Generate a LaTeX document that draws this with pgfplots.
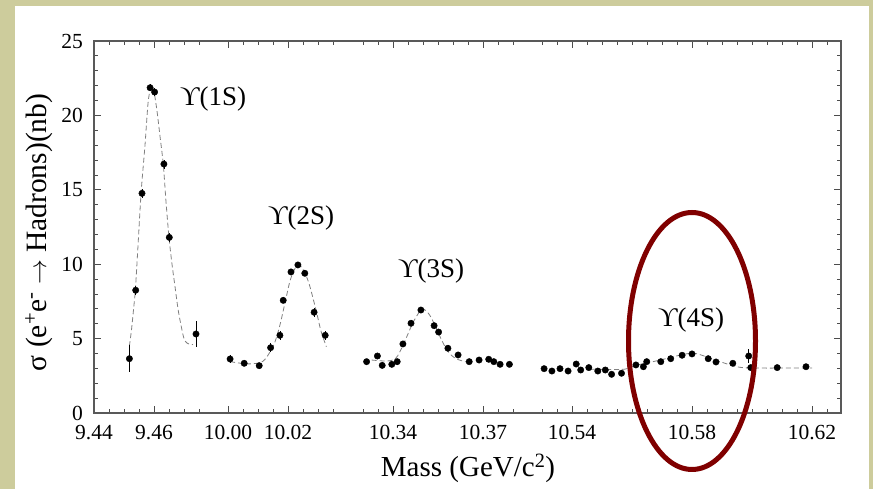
\documentclass[border=0pt]{standalone}
\usepackage{fontspec}
\setmainfont{Liberation Serif}
\usepackage{pgfplots}
\pgfplotsset{compat=1.18}
\usepackage{pgfplotstable}
\definecolor{frame}{RGB}{205,204,156}
\definecolor{ellred}{RGB}{128,0,0}

% Upsilon(1S) data
\pgfplotstableread{
m v e
9.4518 3.65 0.90
9.4539 8.25 0.30
9.4560 14.76 0.30
9.4587 21.86 0.25
9.4602 21.57 0.25
9.4633 16.73 0.30
9.4651 11.80 0.30
9.4740 5.31 0.85
}\ptsA
\pgfplotstableread{
m v
9.4518 4.5
9.4525 5.6
9.4532 7.0
9.4538 8.3
9.4546 11.0
9.4557 14.8
9.4570 18.0
9.4580 20.8
9.4588 21.8
9.4593 22.0
9.4600 21.6
9.4610 20.3
9.4620 18.6
9.4631 16.7
9.4640 14.2
9.4650 11.8
9.4660 10.0
9.4670 8.5
9.4680 7.0
9.4690 5.9
9.4700 5.0
9.4710 4.7
9.4720 4.6
9.4730 4.6
}\fitA
% Upsilon(2S)
\pgfplotstableread{
m v e
10.0007 3.63 0.30
10.0054 3.34 0.20
10.0104 3.18 0.20
10.0142 4.39 0.30
10.0173 5.22 0.30
10.0184 7.57 0.20
10.0210 9.48 0.20
10.0233 9.95 0.20
10.0256 9.39 0.20
10.0287 6.77 0.30
10.0324 5.22 0.30
}\ptsB
\pgfplotstableread{
m v
10.0007 3.45
10.0040 3.35
10.0073 3.30
10.0107 3.38
10.0123 3.60
10.0140 4.10
10.0157 4.80
10.0173 5.90
10.0190 7.40
10.0207 8.90
10.0223 9.70
10.0233 9.92
10.0243 9.85
10.0257 9.40
10.0273 8.50
10.0296 6.70
10.0310 5.50
10.0328 4.45
}\fitB
% Upsilon(3S)
\pgfplotstableread{
m v e
10.3312 3.45 0.20
10.3348 3.83 0.20
10.3364 3.20 0.20
10.3396 3.27 0.20
10.3414 3.45 0.20
10.3433 4.64 0.20
10.3460 6.03 0.20
10.3493 6.92 0.20
10.3537 5.87 0.20
10.3552 5.44 0.20
10.3583 4.35 0.20
10.3617 3.90 0.20
10.3654 3.45 0.15
10.3687 3.56 0.15
10.3719 3.61 0.15
10.3736 3.45 0.15
10.3757 3.27 0.15
10.3788 3.27 0.15
}\ptsC
\pgfplotstableread{
m v
10.3329 3.56
10.3379 3.49
10.3407 3.63
10.3423 4.12
10.3446 5.13
10.3468 6.13
10.3496 6.97
10.3518 6.70
10.3540 5.90
10.3562 4.90
10.3584 4.12
10.3607 3.68
10.3640 3.45
10.3657 3.42
}\fitC
% Upsilon(4S)
\pgfplotstableread{
m v e
10.5307 2.98 0.15
10.5333 2.82 0.15
10.5360 2.98 0.15
10.5387 2.82 0.15
10.5414 3.29 0.15
10.5429 2.89 0.15
10.5456 3.05 0.15
10.5486 2.82 0.15
10.5511 2.89 0.15
10.5532 2.60 0.15
10.5565 2.67 0.15
10.5613 3.23 0.15
10.5638 3.11 0.15
10.5649 3.45 0.15
10.5696 3.45 0.15
10.5729 3.65 0.15
10.5767 3.88 0.15
10.5800 3.97 0.15
10.5854 3.65 0.15
10.5880 3.43 0.15
10.5936 3.34 0.15
10.5989 3.83 0.50
10.5996 3.05 0.15
10.6084 3.05 0.15
10.6180 3.11 0.15
}\ptsD
\pgfplotstableread{
m v
10.5460 2.95
10.5527 2.92
10.5577 2.95
10.5613 3.20
10.5670 3.45
10.5727 3.72
10.5767 3.92
10.5800 4.02
10.5827 3.92
10.5893 3.45
10.5960 3.07
10.6027 3.02
10.6127 3.02
10.6200 3.02
}\fitD

\begin{document}
\begin{tikzpicture}[x=1pt,y=1pt]
\fill[frame] (0,0) rectangle (873,489);
\fill[white] (15,0) rectangle (869,483);
\begin{axis}[
  at={(94pt,76pt)}, anchor=south west, scale only axis,
  width=747pt, height=372pt,
  xmin=0, xmax=747, ymin=0, ymax=25,
  xtick={0,60,134,194,299,389,478,598,718},
  xticklabels={9.44,9.46,10.00,10.02,10.34,10.37,10.54,10.58,10.62},
  minor xtick={15,30,45,75,90,105,149,164,179,209,224,239,269,284,314,329,344,359,374,404,419,448,463,493,508,523,538,553,568,583,613,628,643,658,673,688,703,733},
  ytick={0,5,10,15,20,25},
  minor y tick num=4,
  major tick length=7pt, minor tick length=4pt,
  tick style={black!70, line width=0.8pt},
  axis line style={black!65, line width=1.2pt},
  tick align=inside,
  /pgf/number format/assume math mode=true,
  xticklabel style={font=\fontsize{21.5}{25}\selectfont, anchor=base, yshift=-27pt},
  yticklabel style={font=\fontsize{21.5}{25}\selectfont, inner sep=0pt, xshift=-11pt},
  every axis plot/.append style={line join=round},
]
% fitted curves
\addplot[no marks, smooth, gray, line width=0.8pt, dash pattern=on 5pt off 3pt] table[x expr=(\thisrow{m}-9.44)*3000, y=v] {\fitA};
\addplot[no marks, smooth, gray, line width=0.8pt, dash pattern=on 5pt off 3pt] table[x expr=(\thisrow{m}-10.00)*3000+134, y=v] {\fitB};
\addplot[no marks, smooth, gray, line width=0.8pt, dash pattern=on 5pt off 3pt] table[x expr=(\thisrow{m}-10.34)*3000+299, y=v] {\fitC};
\addplot[no marks, smooth, gray, line width=0.8pt, dash pattern=on 5pt off 3pt] table[x expr=(\thisrow{m}-10.54)*3000+478, y=v] {\fitD};
% data points
\pgfplotsset{ptstyle/.style={only marks, mark=*, mark size=3.2pt, black,
   error bars/.cd, y dir=both, y explicit, error mark=none,
   error bar style={black, line width=0.7pt}}}
\addplot[ptstyle] table[x expr=(\thisrow{m}-9.44)*3000, y=v, y error=e] {\ptsA};
\addplot[ptstyle] table[x expr=(\thisrow{m}-10.00)*3000+134, y=v, y error=e] {\ptsB};
\addplot[ptstyle] table[x expr=(\thisrow{m}-10.34)*3000+299, y=v, y error=e] {\ptsC};
\addplot[ptstyle] table[x expr=(\thisrow{m}-10.54)*3000+478, y=v, y error=e] {\ptsD};
\end{axis}
% axis labels
\node[rotate=90, anchor=base, font=\fontsize{29.5}{33}\selectfont] at (46,256.5) {σ (e\textsuperscript{+}e\textsuperscript{-} \ensuremath{\rightarrow} Hadrons)(nb)};
\node[anchor=base, font=\fontsize{29}{33}\selectfont] at (468,12) {Mass (GeV/c\textsuperscript{2})};
% peak labels
\node[anchor=base west, inner sep=0pt, font=\fontsize{27}{30}\selectfont] at (180,383) {ϒ(1S)};
\node[anchor=base west, inner sep=0pt, font=\fontsize{27}{30}\selectfont] at (268,264) {ϒ(2S)};
\node[anchor=base west, inner sep=0pt, font=\fontsize{27}{30}\selectfont] at (398,211) {ϒ(3S)};
\node[anchor=base west, inner sep=0pt, font=\fontsize{27}{30}\selectfont] at (658,162) {ϒ(4S)};
% highlight ellipse
\draw[ellred, line width=5pt] (692,148) ellipse [x radius=63.5pt, y radius=128.5pt];
\end{tikzpicture}
\end{document}
